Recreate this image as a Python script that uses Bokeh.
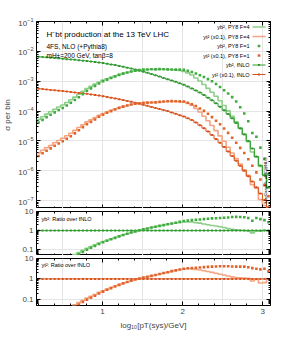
import numpy as np
from bokeh.plotting import figure
from bokeh.layouts import column
from bokeh.models import (FixedTicker, LogAxis, LinearAxis, Label, Range1d,
                          CustomJSTickFormatter, LogTickFormatter)
from bokeh.embed import file_html
from bokeh.resources import INLINE

# ---------------- data ----------------
X_MIN, X_MAX = 0.176, 3.097          # log10(pT/GeV) range of the histogram
N_BINS = 58
bin_edges = np.linspace(X_MIN, X_MAX, N_BINS + 1)
bin_centers = 0.5 * (bin_edges[:-1] + bin_edges[1:])

# fixed-order NLO, sigma per bin
yb_fnlo = [6.61e-3, 6.46e-3, 6.31e-3, 6.17e-3, 6.03e-3, 5.89e-3, 5.69e-3, 5.50e-3, 5.37e-3, 5.25e-3,
           5.07e-3, 4.90e-3, 4.79e-3, 4.57e-3, 4.42e-3, 4.22e-3, 4.07e-3, 3.85e-3, 3.63e-3, 3.47e-3,
           3.27e-3, 3.05e-3, 2.85e-3, 2.66e-3, 2.45e-3, 2.26e-3, 2.09e-3, 1.91e-3, 1.74e-3, 1.58e-3,
           1.43e-3, 1.29e-3, 1.17e-3, 1.06e-3, 9.55e-4, 8.51e-4, 7.59e-4, 6.61e-4, 5.75e-4, 4.90e-4,
           4.17e-4, 3.47e-4, 2.82e-4, 2.29e-4, 1.82e-4, 1.41e-4, 1.07e-4, 7.94e-5, 5.75e-5, 3.98e-5,
           2.63e-5, 1.66e-5, 1.00e-5, 5.62e-6, 3.02e-6, 1.51e-6, 7.08e-7, 2.82e-7]
yt_fnlo = [5.62e-4, 5.50e-4, 5.31e-4, 5.13e-4, 5.01e-4, 4.84e-4, 4.68e-4, 4.52e-4, 4.37e-4, 4.22e-4,
           4.07e-4, 3.94e-4, 3.80e-4, 3.63e-4, 3.47e-4, 3.31e-4, 3.16e-4, 2.99e-4, 2.82e-4, 2.66e-4,
           2.51e-4, 2.34e-4, 2.19e-4, 2.04e-4, 1.91e-4, 1.76e-4, 1.62e-4, 1.50e-4, 1.38e-4, 1.27e-4,
           1.17e-4, 1.08e-4, 1.00e-4, 9.02e-5, 8.13e-5, 7.33e-5, 6.61e-5, 5.75e-5, 5.01e-5, 4.17e-5,
           3.39e-5, 2.69e-5, 2.09e-5, 1.58e-5, 1.17e-5, 8.71e-6, 6.31e-6, 4.47e-6, 3.16e-6, 2.19e-6,
           1.48e-6, 1.00e-6, 6.61e-7, 4.37e-7, 2.82e-7, 1.74e-7, 1.05e-7, 6.03e-8]

# ratios over fNLO
ratio_yb_f4 = [0.0079, 0.0100, 0.0126, 0.0155, 0.0190, 0.0234, 0.0282, 0.0355, 0.0447, 0.0562,
               0.0724, 0.0933, 0.120, 0.148, 0.182, 0.224, 0.269, 0.316, 0.372, 0.437,
               0.513, 0.603, 0.692, 0.794, 0.912, 1.047, 1.175, 1.288, 1.445, 1.585,
               1.778, 1.950, 2.138, 2.290, 2.512, 2.690, 2.818, 2.884, 2.818, 2.630,
               2.455, 2.239, 2.042, 1.862, 1.738, 1.585, 1.445, 1.288, 1.175, 1.096,
               1.047, 1.023, 0.955, 0.759, 0.977, 0.933, 1.047, 0.955]
ratio_yb_f1 = [0.0063, 0.0079, 0.0100, 0.0123, 0.0151, 0.0186, 0.0224, 0.0282, 0.0355, 0.0447,
               0.0575, 0.0759, 0.100, 0.126, 0.158, 0.200, 0.245, 0.295, 0.355, 0.417,
               0.501, 0.589, 0.692, 0.794, 0.912, 1.047, 1.175, 1.288, 1.445, 1.585,
               1.778, 1.950, 2.138, 2.344, 2.570, 2.884, 3.162, 3.388, 3.548, 3.715,
               3.802, 3.981, 4.169, 4.365, 4.467, 4.571, 4.677, 4.898, 5.129, 5.248,
               5.129, 5.012, 4.571, 3.311, 4.571, 3.981, 3.548, 2.754]
ratio_yt_f4 = [0.0071, 0.0089, 0.0112, 0.0138, 0.0174, 0.0214, 0.0263, 0.0331, 0.0417, 0.0537,
               0.0692, 0.0891, 0.115, 0.141, 0.174, 0.219, 0.263, 0.316, 0.380, 0.447,
               0.525, 0.617, 0.708, 0.813, 0.933, 1.047, 1.175, 1.288, 1.413, 1.549,
               1.698, 1.905, 2.089, 2.344, 2.570, 2.818, 3.020, 3.162, 3.162, 2.951,
               2.754, 2.512, 2.291, 2.089, 1.905, 1.698, 1.549, 1.380, 1.259, 1.175,
               1.148, 1.096, 1.072, 0.794, 0.933, 0.631, 0.661, 1.000]
ratio_yt_f1 = [0.0056, 0.0071, 0.0089, 0.0110, 0.0138, 0.0170, 0.0209, 0.0263, 0.0331, 0.0427,
               0.0562, 0.0741, 0.0955, 0.120, 0.151, 0.195, 0.240, 0.295, 0.355, 0.427,
               0.513, 0.603, 0.708, 0.813, 0.933, 1.047, 1.175, 1.288, 1.413, 1.549,
               1.738, 1.950, 2.138, 2.399, 2.630, 2.884, 3.162, 3.311, 3.388, 3.548,
               3.631, 3.802, 3.890, 3.981, 4.074, 4.169, 4.169, 4.169, 4.074, 3.981,
               3.981, 3.981, 3.715, 3.388, 3.162, 2.951, 3.162, 2.344]

x_major_ticks = [1, 2, 3]
x_minor_ticks = [0.2, 0.4, 0.6, 0.8, 1.2, 1.4, 1.6, 1.8, 2.2, 2.4, 2.6, 2.8, 3.0]
main_y_ticks = [1e-7, 1e-6, 1e-5, 1e-4, 1e-3, 1e-2, 1e-1]
ratio_y_ticks = [0.1, 1, 10]

legend_labels = ["yb², PY8 F=4", "yt² (x0.1), PY8 F=4", "yb², PY8 F=1",
                 "yt² (x0.1), PY8 F=1", "yb², fNLO", "yt² (x0.1), fNLO"]

# derived series
yb_fnlo_a = np.array(yb_fnlo); yt_fnlo_a = np.array(yt_fnlo)
yb_f4 = yb_fnlo_a * np.array(ratio_yb_f4)
yb_f1 = yb_fnlo_a * np.array(ratio_yb_f1)
yt_f4 = yt_fnlo_a * np.array(ratio_yt_f4)
yt_f1 = yt_fnlo_a * np.array(ratio_yt_f1)
ratio_yb_fnlo = yb_fnlo_a / yb_fnlo_a
ratio_yt_fnlo = yt_fnlo_a / yt_fnlo_a

# ---------------- style ----------------
FONT = "Liberation Sans"
G_DARK, G_LIGHT, G_MID = "#2e9a2e", "#8ccf88", "#40aa40"
O_DARK, O_LIGHT, O_MID = "#d8531c", "#f3a583", "#e0642a"

W = 283
LEFT, RIGHT = 36, 13          # frame spans page x 36..270
MAIN_BOT, MAIN_TOP = 5.5e-8, 0.1
R_BOT, R_TOP = 0.05, 10.0

blank = CustomJSTickFormatter(code="return '';")
ratio_fmt = CustomJSTickFormatter(code="return tick < 1 ? tick.toFixed(1) : tick.toFixed(0);")


def tick_style():
    return dict(major_tick_in=4, major_tick_out=0, minor_tick_in=2, minor_tick_out=0,
                axis_line_color=None, major_tick_line_color="black", minor_tick_line_color="black",
                major_tick_line_width=1, minor_tick_line_width=1)


def log_minor(ticks):
    out = []
    for t in ticks + [ticks[0] / 10]:
        out += [t * k for k in range(2, 10)]
    return out


def make_fig(height, ymin, ymax, top, bottom, yticks, yfmt, xlabels=False, ylabel=None):
    p = figure(width=W, height=height, x_range=Range1d(X_MIN, X_MAX), y_range=Range1d(ymin, ymax),
               y_axis_type="log", x_axis_location=None, y_axis_location=None,
               output_backend="svg", toolbar_location=None,
               min_border_left=LEFT, min_border_right=RIGHT, min_border_top=top, min_border_bottom=bottom)
    p.outline_line_color = "black"
    p.outline_line_width = 1
    p.background_fill_color = "white"
    p.border_fill_color = "white"
    yt = FixedTicker(ticks=yticks, minor_ticks=log_minor(yticks))
    left = LogAxis(ticker=yt, formatter=yfmt, major_label_text_font=FONT,
                   major_label_text_font_size="8px", major_label_standoff=3, **tick_style())
    if ylabel:
        left.axis_label = ylabel
        left.axis_label_text_font = FONT
        left.axis_label_text_font_size = "8px"
        left.axis_label_text_font_style = "normal"
        left.axis_label_standoff = 3
    p.add_layout(left, "left")
    right = LogAxis(ticker=yt, formatter=blank, major_label_text_font_size="0px",
                    major_label_standoff=0, **tick_style())
    p.add_layout(right, "right")
    xt = FixedTicker(ticks=x_major_ticks, minor_ticks=x_minor_ticks)
    top_ax = LinearAxis(ticker=xt, formatter=blank, major_label_text_font_size="0px",
                        major_label_standoff=0, **tick_style())
    p.add_layout(top_ax, "above")
    if xlabels:
        bot_ax = LinearAxis(ticker=xt, major_label_text_font=FONT, major_label_text_font_size="8px",
                            major_label_standoff=3, axis_label="log₁₀[pT(sys)/GeV]",
                            axis_label_text_font=FONT, axis_label_text_font_size="8px",
                            axis_label_text_font_style="normal", axis_label_standoff=4, **tick_style())
    else:
        bot_ax = LinearAxis(ticker=xt, formatter=blank, major_label_text_font_size="0px",
                            major_label_standoff=0, **tick_style())
    p.add_layout(bot_ax, "below")
    return p


def hist(p, vals, color, width):
    ys = list(vals) + [vals[-1]]
    p.step(x=bin_edges, y=ys, mode="after", line_color=color, line_width=width)


def dots(p, vals, color, size):
    p.scatter(x=bin_centers, y=vals, marker="square", size=size, fill_color=color,
              line_color=None)


# ---------------- main panel ----------------
MAIN_TOP_PX = 21
MAIN_H_FRAME = 187
p1 = make_fig(MAIN_TOP_PX + MAIN_H_FRAME, MAIN_BOT, MAIN_TOP, MAIN_TOP_PX, 0, main_y_ticks,
              LogTickFormatter(), ylabel="σ per bin")

hist(p1, yb_f4, G_LIGHT, 1.6)
hist(p1, yt_f4, O_LIGHT, 1.6)
hist(p1, yb_fnlo, G_DARK, 1.0)
hist(p1, yt_fnlo, O_DARK, 1.0)
dots(p1, yb_fnlo, G_DARK, 2.0)
dots(p1, yt_fnlo, O_DARK, 2.0)
dots(p1, yb_f1, G_MID, 2.6)
dots(p1, yt_f1, O_MID, 2.6)


def main_xy(px, py):
    x = X_MIN + (px - LEFT) / 234 * (X_MAX - X_MIN)
    ly = np.log10(MAIN_TOP) - (py - MAIN_TOP_PX) / MAIN_H_FRAME * (np.log10(MAIN_TOP) - np.log10(MAIN_BOT))
    return x, 10 ** ly


def add_text(p, xy, text, size, align="left", angle=0.0):
    p.add_layout(Label(x=xy[0], y=xy[1], text=text, text_font=FONT, text_font_size=size,
                       text_align=align, text_baseline="middle", angle=angle, text_color="black"))


add_text(p1, main_xy(46, 33.5), "H⁻bt production at the 13 TeV LHC", "8px")
add_text(p1, main_xy(46, 46), "4FS, NLO (+Pythia8)", "6.5px")
add_text(p1, main_xy(46, 55), "mH±=200 GeV, tanβ=8", "6.5px")
add_text(p1, main_xy(265, 180), "MadGraph5_aMC@NLO", "4.2px", align="center", angle=np.pi / 2)

# legend (text on the left, sample on the right)
for i, lab in enumerate(legend_labels):
    py = 26.5 + 9.5 * i
    add_text(p1, main_xy(249, py), lab, "5.5px", align="right")
    xa, ya = main_xy(252, py)
    xb, _ = main_xy(265, py)
    xm, _ = main_xy(258.5, py)
    if i == 0:
        p1.line([xa, xb], [ya, ya], line_color=G_LIGHT, line_width=1.6)
    elif i == 1:
        p1.line([xa, xb], [ya, ya], line_color=O_LIGHT, line_width=1.6)
    elif i == 2:
        p1.scatter([xm], [ya], marker="square", size=2.6, fill_color=G_MID, line_color=None)
    elif i == 3:
        p1.scatter([xm], [ya], marker="square", size=2.6, fill_color=O_MID, line_color=None)
    elif i == 4:
        p1.line([xa, xb], [ya, ya], line_color=G_DARK, line_width=1.0)
        p1.scatter([xm], [ya], marker="square", size=2.0, fill_color=G_DARK, line_color=None)
    else:
        p1.line([xa, xb], [ya, ya], line_color=O_DARK, line_width=1.0)
        p1.scatter([xm], [ya], marker="square", size=2.0, fill_color=O_DARK, line_color=None)


# ---------------- ratio panels ----------------
def ratio_xy(px_off, py_off, frame_h):
    x = X_MIN + px_off / 234 * (X_MAX - X_MIN)
    ly = np.log10(R_TOP) - py_off / frame_h * (np.log10(R_TOP) - np.log10(R_BOT))
    return x, 10 ** ly


# panel 1: page y 208..255, frame 211..255
p2 = make_fig(47, R_BOT, R_TOP, 3, 0, ratio_y_ticks, ratio_fmt)
hist(p2, ratio_yb_f4, G_LIGHT, 1.6)
hist(p2, ratio_yb_fnlo, G_DARK, 1.0)
dots(p2, ratio_yb_fnlo, G_DARK, 2.0)
dots(p2, ratio_yb_f1, G_MID, 2.6)
add_text(p2, ratio_xy(5, 7, 44), "yb²: Ratio over fNLO", "5.5px")

# panel 2: page y 255..341, frame 258..305
p3 = make_fig(86, R_BOT, R_TOP, 3, 36, ratio_y_ticks, ratio_fmt, xlabels=True)
hist(p3, ratio_yt_f4, O_LIGHT, 1.6)
hist(p3, ratio_yt_fnlo, O_DARK, 1.0)
dots(p3, ratio_yt_fnlo, O_DARK, 2.0)
dots(p3, ratio_yt_f1, O_MID, 2.6)
add_text(p3, ratio_xy(5, 6, 47), "yt²: Ratio over fNLO", "5.5px")

layout = column(p1, p2, p3, spacing=0)
open("out.html", "w").write(file_html(layout, INLINE))
